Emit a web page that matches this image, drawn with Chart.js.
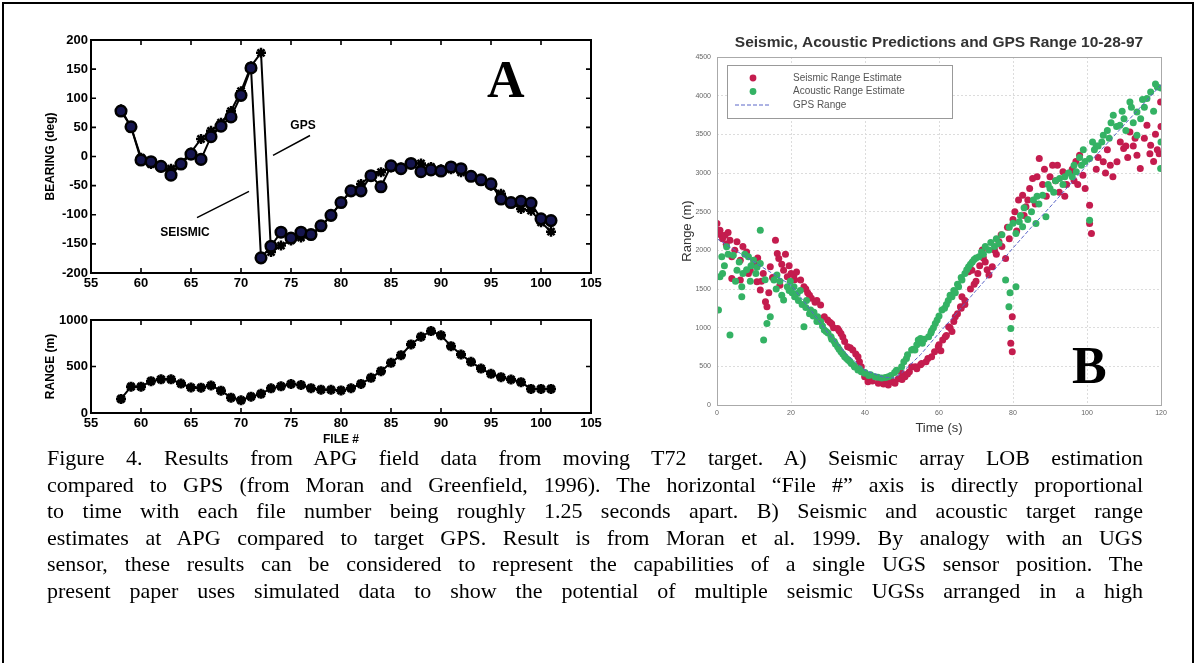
<!DOCTYPE html>
<html>
<head>
<meta charset="utf-8">
<script src="https://cdn.jsdelivr.net/npm/chart.js@4.4.1/dist/chart.umd.min.js"></script>
<style>
body{margin:0;background:#fff;width:1198px;height:663px;overflow:hidden;position:relative;font-family:"Liberation Sans",Arial,sans-serif}
#frame{position:absolute;left:2px;top:2px;width:1192px;height:720px;border:2px solid #000;box-sizing:border-box}
canvas{position:absolute}
.big{position:absolute;font-family:"Liberation Serif","Times New Roman",serif;font-weight:bold;font-size:52px;line-height:1}
.cap{position:absolute;left:47px;width:1096px;font-family:"Liberation Serif","Times New Roman",serif;font-size:22px;line-height:26px;height:26px;text-align:justify;text-align-last:justify;white-space:nowrap;color:#000}
</style>
</head>
<body>
<div id="frame"></div>
<canvas id="bearing" width="620" height="300" style="left:0;top:0"></canvas>
<canvas id="range" width="620" height="150" style="left:0;top:300px"></canvas>
<canvas id="apg" width="558" height="440" style="left:640px;top:0"></canvas>
<div class="big" style="left:487px;top:54px">A</div>
<div class="big" style="left:1072px;top:340px">B</div>
<div class="cap" style="top:445px">Figure 4. Results from APG field data from moving T72 target. A) Seismic array LOB estimation</div>
<div class="cap" style="top:471.5px">compared to GPS (from Moran and Greenfield, 1996). The horizontal “File #” axis is directly proportional</div>
<div class="cap" style="top:498px">to time with each file number being roughly 1.25 seconds apart.  B) Seismic and acoustic target range</div>
<div class="cap" style="top:524.5px">estimates at APG compared to target GPS. Result is from Moran et al. 1999.  By analogy with an UGS</div>
<div class="cap" style="top:551px">sensor, these results can be considered to represent the capabilities of a single UGS sensor position. The</div>
<div class="cap" style="top:577.5px">present paper uses simulated data to show the potential of multiple seismic UGSs arranged in a high</div>
<script>
// panel A data (file # 58..101)
const fileNums = [58,59,60,61,62,63,64,65,66,67,68,69,70,71,72,73,74,75,76,77,78,79,80,81,82,83,84,85,86,87,88,89,90,91,92,93,94,95,96,97,98,99,100,101];
const seismicBearing = [78,51,-6,-9,-17,-32,-13,4,-5,34,52,68,105,152,-174,-154,-130,-140,-130,-134,-119,-101,-79,-59,-59,-33,-52,-16,-21,-12,-26,-23,-25,-18,-21,-34,-40,-47,-73,-79,-77,-80,-107,-110];
const gpsBearing = [81,51,-2,-13,-19,-21,-11,7,30,44,58,78,112,155,178,-164,-153,-144,-139,-136,-121,-101,-79,-59,-47,-33,-27,-19,-19,-11,-12,-18,-22,-22,-27,-34,-42,-50,-64,-79,-90,-93,-113,-129];
const rangeM = [151,283,283,342,362,362,316,274,272,296,240,165,137,176,206,265,287,312,301,267,251,250,243,266,313,378,450,540,622,737,820,881,835,719,629,550,478,421,385,360,331,259,259,259];

// panel B data: [time s, range m]
const seismicRange = [[0,2348],[0.8,2261],[1,2200],[1.5,2150],[2.2,2196],[2.5,2080],[3,2230],[3.5,2132],[4,1916],[4,1636],[4.8,2000],[5.4,2110],[6.3,1873],[6.3,1615],[7,2050],[8,1980],[8.5,1700],[9,1744],[10,1850],[10.8,1593],[11,1900],[11.7,1486],[12,1600],[12.5,1700],[13.1,1335],[13.5,1270],[14,1450],[14.4,1787],[15,1650],[15.8,2132],[16.3,1960],[16.7,1895],[17,1550],[17.5,1820],[18,1744],[18.5,1950],[19,1658],[19.5,1800],[20,1700],[20.8,1680],[21,1620],[21.5,1720],[22.6,1615],[23.5,1529],[24,1500],[24.5,1450],[25,1420],[25.5,1380],[26.5,1330],[27,1350],[28,1292],[29,1141],[29.9,1098],[30.5,1070],[31,1050],[31.5,1000],[32.6,990],[33,960],[33.5,926],[34,880],[34.5,820],[35.3,753],[36,740],[36.7,711],[37.5,660],[38.1,624],[38.5,560],[39,495],[39.9,366],[40.8,301],[41.5,330],[42,310],[43.6,280],[44,300],[45,270],[45.5,290],[46.3,258],[47,320],[47.5,300],[48.1,280],[49,340],[49.9,409],[50,330],[50.8,366],[51.5,400],[52,430],[52.6,495],[53.6,495],[54,470],[55,520],[55.3,538],[56.5,560],[57,600],[58,624],[58.8,690],[59.8,753],[60,780],[60.5,700],[61,840],[61.7,883],[62,900],[62.6,1012],[63,1000],[63.5,950],[64,1080],[64.4,1141],[65,1180],[65.8,1270],[66,1250],[66.2,1399],[67,1300],[67,1350],[68,1722],[68.5,1500],[68.9,1744],[69.5,1560],[70,1600],[70.5,1700],[71,1800],[71.7,2003],[72,1900],[72.5,1850],[73,1750],[73.5,1680],[74.4,1787],[75,2000],[75.5,1950],[76.2,2110],[76.8,2200],[77,2050],[78,1895],[78.5,2300],[79,2150],[79.8,1141],[79.4,797],[79.8,689],[80,2400],[80.5,2500],[81,2250],[81.5,2650],[82.6,2713],[83,2450],[83.5,2562],[84,2650],[84.5,2800],[85.3,2928],[86,2600],[86.5,2950],[87.1,3187],[88,2850],[88.5,3050],[89,2700],[90,2950],[90.7,3101],[91.5,2900],[92,3100],[92.5,2750],[93.5,3015],[94,2700],[94.5,2850],[95.5,3000],[96,3050],[96.5,2900],[97,3150],[97.5,2850],[98,3230],[98.9,2972],[99.5,2800],[100.7,2584],[100.7,2348],[101.2,2218],[102.5,3050],[103,3200],[104.4,3144],[105,3000],[105.5,3300],[106.3,3101],[107,2950],[108.1,3144],[109,3400],[109.9,3316],[110.5,3350],[111,3200],[111.6,3531],[112.5,3350],[113,3450],[113.5,3230],[114.4,3058],[115.5,3450],[116.2,3618],[117,3250],[117.2,3359],[118,3150],[118.5,3500],[119,3300],[119.5,3250],[119.9,3919],[120,3600]];
const acousticRange = [[0.4,1227],[0.8,1658],[1.3,1916],[1.5,1700],[2,1800],[2.6,2045],[3,1950],[3.5,904],[4.4,1938],[5,1600],[5.4,1744],[6,1850],[6.7,1399],[6.7,1529],[7,1700],[7.5,1950],[8,1750],[8.5,1916],[9,1600],[9.2,1800],[9.9,1873],[10.5,1700],[10.8,1780],[11.7,2261],[11.7,1830],[12.6,840],[13,1620],[13.5,1055],[14.4,1141],[15.4,1615],[16,1500],[16.2,1680],[17,1600],[17.5,1420],[18,1357],[19,1529],[19.5,1480],[19.8,1600],[20.3,1450],[20.8,1529],[21,1400],[21.7,1443],[22,1350],[22.5,1480],[23,1300],[23.5,1012],[24,1260],[24.2,1350],[25,1180],[25.3,1227],[26,1150],[26.2,1200],[27,1080],[27.2,1141],[28,1080],[28.5,1020],[29,969],[29.5,950],[30,930],[30.8,883],[31,850],[31.7,820],[32,790],[32.6,753],[33,720],[33.5,690],[34,660],[34.5,624],[35,600],[35.5,580],[36,560],[36.3,538],[37,510],[37.2,490],[38.1,452],[38.5,470],[39,430],[39.9,409],[40,420],[41,380],[41.5,390],[42.7,366],[43.5,360],[44.5,350],[45.5,355],[46.3,366],[47,380],[48,420],[48.5,450],[49.9,495],[50.5,560],[51.2,600],[51.5,650],[52.6,711],[53,720],[53.5,711],[54,780],[54.4,840],[55,860],[55.5,800],[56,850],[57.2,883],[57.8,930],[58,960],[58.5,1000],[59,1055],[59.5,1100],[60,1150],[60.8,1227],[61.5,1250],[62,1300],[62.5,1350],[63,1420],[63.5,1399],[64,1480],[64.4,1450],[65,1560],[65.3,1529],[66,1650],[66.2,1615],[67,1700],[67.5,1750],[68,1787],[68.5,1820],[69,1850],[69.5,1880],[70,1900],[70.8,1916],[71.5,1980],[72,1950],[72.5,2050],[73.5,2003],[74,2100],[75,2050],[75.5,2150],[76.2,2089],[77,2200],[78,1615],[78.9,1270],[79.4,990],[79.2,1450],[79,2300],[80,2350],[80.8,1529],[80.8,2218],[81.7,2369],[82,2450],[82.6,2304],[83,2550],[84,2400],[85,2500],[85.5,2650],[86.2,2348],[86.5,2700],[87,2600],[88,2713],[88.9,2433],[89.5,2850],[90,2800],[91,2750],[91.5,2900],[92.6,2928],[93.5,2850],[94,2950],[95,3000],[96,2950],[96.5,3100],[97.1,3015],[98,3200],[98.5,3100],[99,3300],[99.5,3150],[100.7,3187],[100.7,2390],[101.5,3400],[102,3300],[102.5,3350],[103,3350],[104,3400],[104.4,3488],[105.5,3550],[106,3450],[106.5,3650],[107.1,3747],[108,3600],[108.9,3618],[109.5,3800],[110,3700],[110.5,3550],[111.6,3919],[112,3850],[112.5,3650],[113.5,3790],[113.5,3488],[114.5,3700],[115,3950],[115.5,3850],[116.2,3962],[117.2,4048],[118,3800],[118.5,4150],[119,4112],[119.9,3058],[120,3400],[120,4100]];
const gpsRange = [[0,2150],[5,2000],[10,1850],[15,1700],[20,1550],[25,1250],[30,930],[35,660],[40,450],[45,360],[48,350],[50,420],[55,650],[60,930],[65,1200],[70,1480],[75,1750],[80,2030],[85,2300],[90,2560],[95,2830],[100,3100],[105,3360],[110,3620],[115,3880],[120,4140]];

Chart.defaults.font.family = '"Liberation Sans", Arial, sans-serif';
Chart.defaults.animation = false;
Chart.defaults.responsive = false;
Chart.defaults.devicePixelRatio = 1;

const toXY = (xs, ys) => xs.map((v, i) => ({x: v, y: ys[i]}));
const toPts = arr => arr.map(p => ({x: p[0], y: p[1]}));
const plain = v => String(v);

// matlab-like box with inward ticks
const boxTicks = {
  id: 'boxTicks',
  afterDraw(chart) {
    const {ctx, chartArea: a, scales: {x, y}} = chart;
    ctx.save();
    ctx.strokeStyle = '#000';
    ctx.lineWidth = 2;
    ctx.strokeRect(a.left, a.top, a.right - a.left, a.bottom - a.top);
    ctx.lineWidth = 1.6;
    ctx.beginPath();
    x.ticks.forEach(t => {
      const p = x.getPixelForValue(t.value);
      if (p < a.left + 2 || p > a.right - 2) return;
      ctx.moveTo(p, a.top); ctx.lineTo(p, a.top + 5);
      ctx.moveTo(p, a.bottom); ctx.lineTo(p, a.bottom - 5);
    });
    y.ticks.forEach(t => {
      const p = y.getPixelForValue(t.value);
      if (p < a.top + 2 || p > a.bottom - 2) return;
      ctx.moveTo(a.left, p); ctx.lineTo(a.left + 5, p);
      ctx.moveTo(a.right, p); ctx.lineTo(a.right - 5, p);
    });
    ctx.stroke();
    ctx.restore();
  }
};

// GPS / SEISMIC call-outs on the bearing plot
const bearingNotes = {
  id: 'bearingNotes',
  afterDraw(chart) {
    const {ctx, scales: {x, y}} = chart;
    const seg = (x1, y1, x2, y2) => {
      ctx.moveTo(x.getPixelForValue(x1), y.getPixelForValue(y1));
      ctx.lineTo(x.getPixelForValue(x2), y.getPixelForValue(y2));
    };
    ctx.save();
    ctx.strokeStyle = '#000';
    ctx.lineWidth = 1.5;
    ctx.beginPath();
    seg(73.2, 2, 76.9, 36);
    seg(65.6, -105, 70.8, -60);
    ctx.stroke();
    ctx.fillStyle = '#000';
    ctx.font = 'bold 12px "Liberation Sans", Arial, sans-serif';
    ctx.textAlign = 'center';
    ctx.textBaseline = 'middle';
    ctx.fillText('GPS', x.getPixelForValue(76.2), y.getPixelForValue(53));
    ctx.fillText('SEISMIC', x.getPixelForValue(64.4), y.getPixelForValue(-130));
    ctx.restore();
  }
};

const tickFont = {size: 13, weight: 'bold'};
const titleFont = {size: 12, weight: 'bold'};

new Chart(document.getElementById('bearing'), {
  type: 'scatter',
  data: {
    datasets: [{
      label: 'SEISMIC',
      data: toXY(fileNums, seismicBearing),
      showLine: true,
      borderColor: '#000',
      borderWidth: 2,
      pointStyle: 'circle',
      pointRadius: 5.3,
      pointBackgroundColor: '#15154e',
      pointBorderColor: '#000',
      pointBorderWidth: 2.5
    }, {
      label: 'GPS',
      data: toXY(fileNums, gpsBearing),
      showLine: true,
      borderColor: '#000',
      borderWidth: 2,
      pointStyle: 'star',
      pointRadius: 5,
      pointBorderColor: '#000',
      pointBorderWidth: 2.5
    }]
  },
  options: {
    layout: {padding: {top: 40, right: 29, left: 0, bottom: 0}},
    plugins: {legend: {display: false}, tooltip: {enabled: false}},
    scales: {
      x: {
        type: 'linear', min: 55, max: 105,
        ticks: {stepSize: 5, color: '#000', font: tickFont, padding: 3, maxRotation: 0, callback: plain},
        grid: {display: false, drawTicks: false},
        border: {display: false},
        afterFit: s => { s.height = 27; }
      },
      y: {
        min: -200, max: 200,
        ticks: {stepSize: 50, color: '#000', font: tickFont, padding: 3, callback: plain},
        grid: {display: false, drawTicks: false},
        border: {display: false},
        title: {display: true, text: 'BEARING (deg)', color: '#000', font: titleFont, padding: {top: 43, bottom: 0}},
        afterFit: s => { s.width = 91; }
      }
    }
  },
  plugins: [boxTicks, bearingNotes]
});

new Chart(document.getElementById('range'), {
  type: 'scatter',
  data: {
    datasets: [{
      label: 'RANGE',
      data: toXY(fileNums, rangeM),
      showLine: true,
      borderColor: '#000',
      borderWidth: 2,
      pointStyle: 'star',
      pointRadius: 5,
      pointBorderColor: '#000',
      pointBorderWidth: 3
    }]
  },
  options: {
    layout: {padding: {top: 20, right: 29, left: 0, bottom: 0}},
    plugins: {legend: {display: false}, tooltip: {enabled: false}},
    scales: {
      x: {
        type: 'linear', min: 55, max: 105,
        ticks: {stepSize: 5, color: '#000', font: tickFont, padding: 3, maxRotation: 0, callback: plain},
        grid: {display: false, drawTicks: false},
        border: {display: false},
        title: {display: true, text: 'FILE #', color: '#000', font: titleFont, padding: {top: 0, bottom: 3}},
        afterFit: s => { s.height = 37; }
      },
      y: {
        min: 0, max: 1000,
        ticks: {stepSize: 500, color: '#000', font: tickFont, padding: 3, callback: plain},
        grid: {display: false, drawTicks: false},
        border: {display: false},
        title: {display: true, text: 'RANGE (m)', color: '#000', font: titleFont, padding: {top: 43, bottom: 0}},
        afterFit: s => { s.width = 91; }
      }
    }
  },
  plugins: [boxTicks]
});

// light frame and boxed legend for panel B
const apgFrame = {
  id: 'apgFrame',
  afterDraw(chart) {
    const {ctx, chartArea: a} = chart;
    ctx.save();
    ctx.strokeStyle = '#aaa';
    ctx.lineWidth = 1;
    ctx.strokeRect(a.left + 0.5, a.top + 0.5, a.right - a.left, a.bottom - a.top);
    const bx = a.left + 10, by = a.top + 8, bw = 225, bh = 53;
    ctx.fillStyle = '#fff';
    ctx.fillRect(bx, by, bw, bh);
    ctx.strokeStyle = '#999';
    ctx.strokeRect(bx + 0.5, by + 0.5, bw, bh);
    ctx.font = '10px "Liberation Sans", Arial, sans-serif';
    ctx.textBaseline = 'middle';
    chart.data.datasets.slice().reverse().forEach((ds, i) => {
      const ry = by + 13 + i * 13.5;
      if (ds.showLine) {
        ctx.strokeStyle = ds.borderColor;
        ctx.lineWidth = 1;
        ctx.setLineDash([4, 2]);
        ctx.beginPath(); ctx.moveTo(bx + 8, ry); ctx.lineTo(bx + 44, ry); ctx.stroke();
        ctx.setLineDash([]);
      } else {
        ctx.fillStyle = ds.backgroundColor;
        ctx.beginPath(); ctx.arc(bx + 26, ry, 3.4, 0, Math.PI * 2); ctx.fill();
      }
      ctx.fillStyle = '#555';
      ctx.fillText(ds.label, bx + 66, ry);
    });
    ctx.restore();
  }
};

new Chart(document.getElementById('apg'), {
  type: 'scatter',
  data: {
    datasets: [{
      label: 'GPS Range',
      data: toPts(gpsRange),
      showLine: true,
      borderColor: '#5a66c8',
      borderWidth: 1,
      borderDash: [4, 2],
      pointRadius: 0
    }, {
      label: 'Acoustic Range Estimate',
      data: toPts(acousticRange),
      backgroundColor: 'rgb(52,178,100)',
      borderWidth: 0,
      pointRadius: 3.5
    }, {
      label: 'Seismic Range Estimate',
      data: toPts(seismicRange),
      backgroundColor: 'rgb(196,28,78)',
      borderWidth: 0,
      pointRadius: 3.5
    }]
  },
  options: {
    layout: {padding: {top: 0, right: 37, left: 0, bottom: 0}},
    plugins: {
      legend: {display: false},
      tooltip: {enabled: false},
      title: {
        display: true,
        fullSize: false,
        text: 'Seismic, Acoustic Predictions and GPS Range 10-28-97',
        color: '#333',
        font: {size: 15.5, weight: 'bold'},
        padding: {top: 33, bottom: 5.4}
      }
    },
    scales: {
      x: {
        type: 'linear', min: 0, max: 120,
        ticks: {stepSize: 20, color: '#666', font: {size: 7}, padding: 4, maxRotation: 0, callback: plain},
        grid: {color: '#dcdcdc', drawTicks: false},
        border: {display: false, dash: [2, 2]},
        title: {display: true, text: 'Time (s)', color: '#333', font: {size: 13}, padding: {top: 0, bottom: 4}},
        afterFit: s => { s.height = 35; }
      },
      y: {
        min: 0, max: 4500,
        ticks: {stepSize: 500, color: '#666', font: {size: 7}, padding: 6, callback: plain},
        grid: {color: '#dcdcdc', drawTicks: false},
        border: {display: false, dash: [2, 2]},
        title: {display: true, text: 'Range (m)', color: '#333', font: {size: 13}, padding: {top: 40, bottom: 0}},
        afterFit: s => { s.width = 77; }
      }
    }
  },
  plugins: [apgFrame]
});
</script>
</body>
</html>
